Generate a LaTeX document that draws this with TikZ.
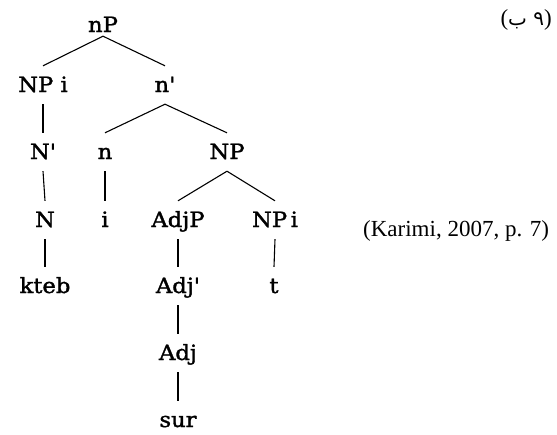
\documentclass[tikz,border=0pt]{standalone}
\usepackage{fontspec}
\setmainfont{Liberation Serif}
\newfontfamily\treefont[FakeStretch=1.08,FakeBold=1.6]{DejaVu Serif}
\newfontfamily\arabicfont[Script=Arabic]{DejaVu Sans}
\TeXXeTstate=1
\begin{document}
\begin{tikzpicture}[x=1pt,y=-1pt,
  tn/.style={font=\treefont\fontsize{21}{22}\selectfont, anchor=base, inner xsep=0pt, inner ysep=11pt, text height=15pt, text depth=1pt},
  topn/.style={tn, inner ysep=3pt},
  br/.style={line width=1.1pt, black}]
\useasboundingbox (0,0) rectangle (557,434);
% row 1
\node[topn] (nP) at (103,32) {nP};
% row 2
\node[tn] (NPi) at (43,92) {NP i};
\node[tn] (nbar) at (165,92) {n'};
% row 3
\node[tn] (Nbar) at (43,159) {N'};
\node[tn] (n) at (105,159) {n};
\node[tn] (NP) at (227,159) {NP};
% row 4
\node[tn] (N) at (45,227) {N};
\node[tn] (i) at (105,227) {i};
\node[tn] (AdjP) at (178,227) {AdjP};
\node[tn] (NPi2) at (275,227) {NP\,i};
% row 5
\node[tn] (kteb) at (45,293) {kteb};
\node[tn] (Adjbar) at (178,293) {Adj'};
\node[tn] (t) at (274,293) {t};
% row 6
\node[tn] (Adj) at (178,360) {Adj};
% row 7
\node[tn] (sur) at (178,427) {sur};
% edges
\draw[br] (nP.south) -- (NPi.north);
\draw[br] (nP.south) -- (nbar.north);
\draw[br] (NPi.south) -- (Nbar.north);
\draw[br] (nbar.south) -- (n.north);
\draw[br] (nbar.south) -- (NP.north);
\draw[br] (Nbar.south) -- (N.north);
\draw[br] (n.south) -- (i.north);
\draw[br] (NP.south) -- (AdjP.north);
\draw[br] (NP.south) -- (NPi2.north);
\draw[br] (N.south) -- (kteb.north);
\draw[br] (AdjP.south) -- (Adjbar.north);
\draw[br] (NPi2.south) -- (t.north);
\draw[br] (Adjbar.south) -- (Adj.north);
\draw[br] (Adj.south) -- (sur.north);
% labels
\node[anchor=base east, inner sep=0pt, font=\fontsize{23}{24}\selectfont] (ex) at (552,25) {({\arabicfont\fontsize{20}{20}\selectfont\beginR ۹ ب\endR})};
\node[anchor=base west, inner sep=0pt, font=\fontsize{23}{24}\selectfont] (cite) at (363,236) {(Karimi, 2007, p. 7)};
\end{tikzpicture}
\end{document}
